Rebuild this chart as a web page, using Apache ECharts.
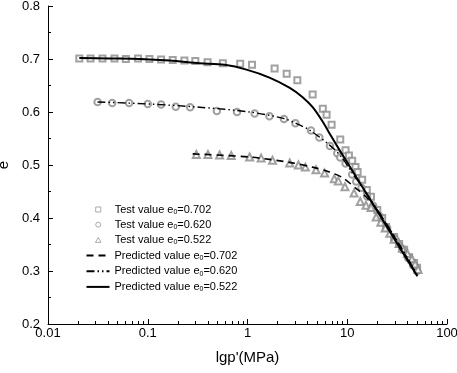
<!DOCTYPE html>
<html>
<head>
<meta charset="utf-8">
<script src="https://cdn.jsdelivr.net/npm/echarts@6/dist/echarts.min.js"></script>
<style>html,body{margin:0;padding:0;background:#fff}#c{width:457px;height:373px}</style>
</head>
<body>
<div id="c"></div>
<script>
// ---- data ----
var xTicks = [0.01, 0.1, 1, 10, 100];
var yTicks = [0.2, 0.3, 0.4, 0.5, 0.6, 0.7, 0.8];
var legendNames = [
  'Test value e0=0.702', 'Test value e0=0.620', 'Test value e0=0.522',
  'Predicted value e0=0.702', 'Predicted value e0=0.620', 'Predicted value e0=0.522'
];
// Test value e0=0.702 (squares)
var sqP = [0.0206,0.0267,0.0352,0.0464,0.0603,0.080,0.104,0.136,0.178,0.233,0.300,0.398,0.566,0.845,1.11,1.87,2.47,3.16,4.50,5.69,6.21,6.97,8.51,9.62,10.4,11.2,12.1,12.7,14.1,15.7,17.3,20.0,22.4,24.5,29.5,33.1,37.2,41.7,46.8,50.1];
var sqE = [0.701,0.701,0.701,0.701,0.700,0.701,0.700,0.699,0.698,0.697,0.696,0.694,0.692,0.691,0.689,0.682,0.672,0.660,0.633,0.606,0.595,0.576,0.548,0.528,0.518,0.508,0.496,0.487,0.472,0.453,0.440,0.415,0.400,0.383,0.364,0.351,0.340,0.326,0.315,0.306];
// Test value e0=0.620 (circles)
var ciP = [0.0314,0.0440,0.065,0.100,0.136,0.191,0.266,0.493,0.785,1.18,1.66,2.32,3.02,4.33,5.25,6.71,7.94,8.51,9.62,11.2,12.3,13.9,15.8,18.2,20.9,25.1,30.2,35.5,40.7,45.7,50.1];
var ciE = [0.619,0.617,0.617,0.615,0.614,0.610,0.609,0.602,0.600,0.597,0.592,0.587,0.579,0.565,0.552,0.536,0.522,0.514,0.503,0.482,0.469,0.457,0.441,0.423,0.404,0.381,0.360,0.342,0.325,0.311,0.300];
// Test value e0=0.522 (triangles)
var trP = [0.307,0.401,0.525,0.687,1.05,1.37,1.78,2.65,3.24,3.80,4.86,5.93,7.41,8.13,9.48,11.7,13.5,15.4,17.3,19.5,21.7,24.0,26.7,29.5,33.1,35.7,40.1,44.4,47.9,51.3];
var trE = [0.520,0.520,0.519,0.518,0.515,0.513,0.509,0.504,0.500,0.496,0.491,0.485,0.474,0.470,0.459,0.447,0.431,0.424,0.420,0.402,0.392,0.381,0.371,0.360,0.352,0.343,0.333,0.323,0.313,0.303];
// Predicted curves as drawn
var dashP = [0.282,1.05,2.63,4.47,6.61,8.98,12.2,15.4,19.5,30.2,50.1];
var dashE = [0.521,0.515,0.505,0.496,0.487,0.476,0.456,0.440,0.418,0.362,0.292];
var ddP = [0.0314,0.105,0.331,1.05,2.29,3.02,4.17,6.61,8.67,11.3,14.8,23.4,33.1,50.1];
var ddE = [0.619,0.615,0.609,0.600,0.588,0.579,0.566,0.538,0.516,0.484,0.453,0.396,0.351,0.294];
var solP = [0.0206,0.0417,0.0832,0.166,0.331,0.589,0.977,1.66,2.63,3.57,4.50,5.66,6.87,8.32,13.2,20.9,33.1,50.5];
var solE = [0.702,0.701,0.700,0.697,0.692,0.689,0.680,0.665,0.646,0.628,0.609,0.582,0.555,0.529,0.468,0.407,0.346,0.290];

var minorX = [];
for (var k = 0; k < xTicks.length - 1; k++) {
  for (var m = 2; m <= 9; m++) minorX.push(+(xTicks[k] * m).toPrecision(3));
}
function zip(a, b) { return a.map(function (v, i) { return [v, b[i]]; }); }

var FONT = 'Liberation Sans, Arial, sans-serif';
var GRAY = '#8a8a8a';
var chart = echarts.init(document.getElementById('c'), null, {renderer: 'canvas'});

function scatter(name, sym, px, py, size) {
  return {
    name: name, type: 'scatter', symbol: sym, symbolSize: size,
    data: zip(px, py), z: 2,
    itemStyle: {color: GRAY, borderWidth: 0.9},
    emphasis: {disabled: true}
  };
}
function line(name, type, w, px, py) {
  return {
    name: name, type: 'line', showSymbol: false, symbol: 'none', smooth: 0.3,
    data: zip(px, py), z: 5,
    lineStyle: {color: '#000', width: w, type: type},
    itemStyle: {color: '#000'},
    emphasis: {disabled: true}
  };
}
var hollow = {color: '#fff', borderColor: GRAY, borderWidth: 0.9};
var markerIcons = [
  'path://M0,0L10,0L10,10L0,10Z',
  'circle',
  'path://M5,0L10,9L0,9Z'
];
var legendText = {fontFamily: FONT, fontSize: 11, color: '#000',
  rich: {s: {fontSize: 7, fontFamily: FONT, color: '#000', padding: [5, 0, 0, 0]}}};
function fmt(n) { return n.replace('e0', 'e{s|0}'); }

var option = {
  animation: false,
  backgroundColor: '#fff',
  textStyle: {fontFamily: FONT},
  grid: {left: 48, right: 10, top: 6, bottom: 49, containLabel: false, outerBoundsMode: 'none'},
  legend: [{
    orient: 'vertical', left: 95, top: 204, padding: 0, itemWidth: 23, itemHeight: 5, itemGap: 3.7,
    symbolKeepAspect: true,
    data: legendNames.slice(0, 3).map(function (n, i) {
      return {name: n, icon: markerIcons[i], itemStyle: hollow};
    }),
    textStyle: legendText, formatter: fmt, selectedMode: false
  }, {
    orient: 'vertical', left: 85.5, top: 250, padding: 0, itemWidth: 23, itemHeight: 5, itemGap: 4.2,
    data: legendNames.slice(3).map(function (n) {
      return {name: n, itemStyle: {opacity: 0}};
    }),
    textStyle: legendText, formatter: fmt, selectedMode: false
  }],
  xAxis: [{
    type: 'log', logBase: 10, min: xTicks[0], max: xTicks[xTicks.length - 1],
    position: 'bottom',
    name: "lgp'(MPa)", nameLocation: 'middle', nameGap: 26,
    nameTextStyle: {fontFamily: FONT, fontSize: 15, color: '#000'},
    axisLine: {onZero: false, lineStyle: {color: '#000', width: 1}},
    axisTick: {inside: true, length: 5, lineStyle: {color: '#000'}},
    axisLabel: {fontFamily: FONT, fontSize: 13, color: '#000', margin: 3,
      formatter: function (v) { return String(+v.toPrecision(3)); }},
    splitLine: {show: false}
  }, {
    type: 'log', logBase: 10, min: xTicks[0], max: xTicks[xTicks.length - 1],
    position: 'bottom', offset: 0,
    axisLine: {show: false, onZero: false},
    axisTick: {inside: true, length: 3, lineStyle: {color: '#000'}, customValues: minorX},
    axisLabel: {show: false},
    splitLine: {show: false}
  }],
  yAxis: {
    type: 'value', min: yTicks[0], max: yTicks[yTicks.length - 1], interval: 0.1,
    name: 'e', nameLocation: 'middle', nameGap: 34,
    nameTextStyle: {fontFamily: FONT, fontSize: 15, color: '#000'},
    axisLine: {show: true, lineStyle: {color: '#000', width: 1}},
    axisTick: {show: true, inside: true, length: 5, lineStyle: {color: '#000'}},
    minorTick: {show: true, splitNumber: 2, length: 3, lineStyle: {color: '#000'}},
    axisLabel: {fontFamily: FONT, fontSize: 13, color: '#000', margin: 8,
      formatter: function (v) { return v.toFixed(1); }},
    splitLine: {show: false}
  },
  series: [
    scatter(legendNames[0], 'emptyRect', sqP, sqE, 6),
    scatter(legendNames[1], 'emptyCircle', ciP, ciE, 6.5),
    scatter(legendNames[2], 'emptyTriangle', trP, trE, 7),
    line(legendNames[3], [7, 5], 1.6, dashP, dashE),
    line(legendNames[4], [8, 3, 1.5, 3, 1.5, 3], 1.4, ddP, ddE),
    line(legendNames[5], 'solid', 2, solP, solE)
  ]
};
chart.setOption(option);
</script>
</body>
</html>
